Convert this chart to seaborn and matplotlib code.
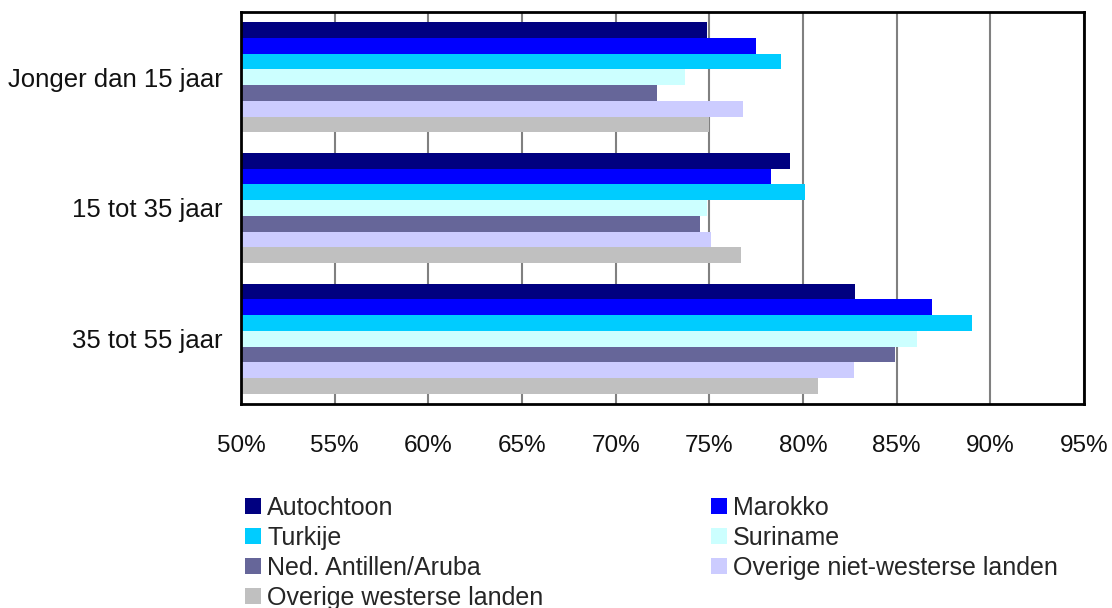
import matplotlib
matplotlib.use("Agg")
import matplotlib.pyplot as plt
from matplotlib.patches import Patch
import pandas as pd
import seaborn as sns

# leeftijdsgroepen en herkomstgroepen
leeftijd = ["Jonger dan 15 jaar", "15 tot 35 jaar", "35 tot 55 jaar"]
herkomst = ["Autochtoon", "Marokko", "Turkije", "Suriname",
            "Ned. Antillen/Aruba", "Overige niet-westerse landen",
            "Overige westerse landen"]
kleuren = ["#000080", "#0000FF", "#00CCFF", "#CCFFFF",
           "#666699", "#CCCCFF", "#C0C0C0"]

# percentages per herkomstgroep (volgorde = leeftijd)
autochtoon = [74.9, 79.3, 82.8]
marokko = [77.5, 78.3, 86.9]
turkije = [78.8, 80.1, 89.0]
suriname = [73.7, 74.9, 86.1]
antillen = [72.2, 74.5, 84.9]
overig_nw = [76.8, 75.1, 82.7]
overig_w = [75.0, 76.7, 80.8]

xticks = [50, 55, 60, 65, 70, 75, 80, 85, 90, 95]
xticklabels = ["50%", "55%", "60%", "65%", "70%", "75%", "80%", "85%", "90%", "95%"]

reeksen = [autochtoon, marokko, turkije, suriname, antillen, overig_nw, overig_w]
rows = []
for naam, waarden in zip(herkomst, reeksen):
    for lft, w in zip(leeftijd, waarden):
        rows.append({"leeftijd": lft, "herkomst": naam, "pct": w})
df = pd.DataFrame(rows)

sns.set_style("white")
plt.rcParams["font.family"] = ["Liberation Sans", "DejaVu Sans"]

fig = plt.figure(figsize=(11.12, 6.08), dpi=100)
ax = fig.add_axes([241 / 1112, (608 - 404) / 608, (1084 - 241) / 1112, 392 / 608])

sns.barplot(data=df, x="pct", y="leeftijd", hue="herkomst", order=leeftijd,
            hue_order=herkomst, palette=kleuren, orient="h", width=0.84,
            saturation=1, linewidth=0, legend=False, ax=ax)

ax.set_xlim(50, 95)
ax.set_xticks(xticks)
ax.set_xticklabels(xticklabels, fontsize=17.5, color="#111111")
ax.tick_params(axis="x", direction="out", length=6, width=1.5, color="black", pad=16)
ax.tick_params(axis="y", length=0, pad=13, labelsize=18.5, labelcolor="#111111")
ax.set_xlabel("")
ax.set_ylabel("")
ax.set_axisbelow(True)
ax.xaxis.grid(True, color="#808080", linewidth=1.5)
ax.yaxis.grid(False)
for s in ax.spines.values():
    s.set_visible(True)
    s.set_color("black")
    s.set_linewidth(2)

# legenda rij voor rij, zoals in het origineel
volgorde = [0, 2, 4, 6, 1, 3, 5]
handles = [Patch(facecolor=kleuren[i], edgecolor="none") for i in volgorde]
labels = [herkomst[i] for i in volgorde]
fig.legend(handles, labels, loc="upper left", bbox_to_anchor=(0.2114, 0.2007),
           ncol=2, frameon=False, fontsize=18,
           handlelength=0.64, handleheight=0.64, handletextpad=0.24,
           labelspacing=0.24, columnspacing=6.7, borderaxespad=0)

fig.savefig("out.png", dpi=100)
